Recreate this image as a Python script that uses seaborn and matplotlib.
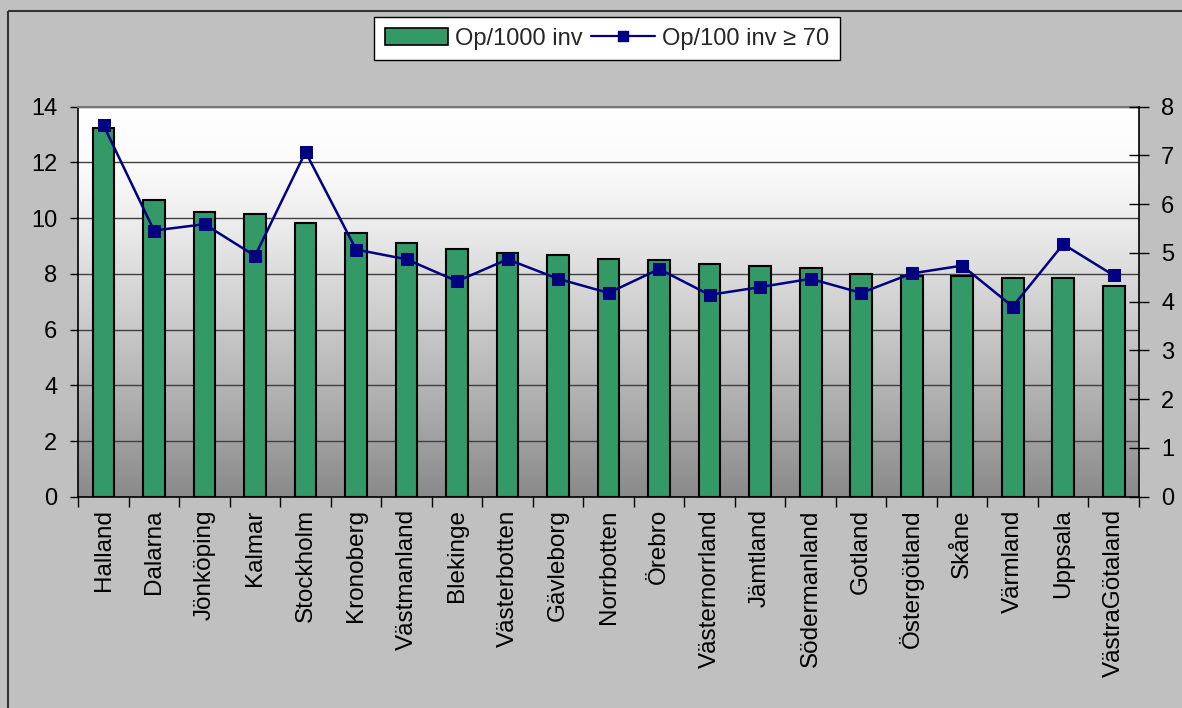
import numpy as np
import pandas as pd
import seaborn as sns
import matplotlib.pyplot as plt
from matplotlib.patches import Rectangle
from matplotlib.lines import Line2D
from matplotlib.colors import LinearSegmentedColormap

# data
regioner = ["Halland", "Dalarna", "Jönköping", "Kalmar", "Stockholm", "Kronoberg",
            "Västmanland", "Blekinge", "Västerbotten", "Gävleborg", "Norrbotten",
            "Örebro", "Västernorrland", "Jämtland", "Södermanland", "Gotland",
            "Östergötland", "Skåne", "Värmland", "Uppsala", "VästraGötaland"]
op_1000 = [13.25, 10.65, 10.23, 10.16, 9.81, 9.47, 9.12, 8.89, 8.76, 8.67, 8.54,
           8.48, 8.34, 8.27, 8.20, 7.99, 7.92, 7.92, 7.85, 7.85, 7.56]
op_100_70 = [7.62, 5.46, 5.59, 4.94, 7.07, 5.07, 4.87, 4.42, 4.87, 4.47, 4.18,
             4.67, 4.14, 4.30, 4.47, 4.18, 4.58, 4.74, 3.90, 5.18, 4.54]

df = pd.DataFrame({"region": regioner, "op1000": op_1000, "op100": op_100_70})

sns.set_theme(style="white")
plt.rcParams["font.family"] = ["Liberation Sans", "DejaVu Sans"]

BAR = "#339966"
LINE = "#000080"
BG = "#c0c0c0"

fig = plt.figure(figsize=(11.82, 7.08), dpi=100, facecolor=BG)
ax = fig.add_axes([0.0662, 0.2984, 0.8974, 0.5509])
ax.set_facecolor("none")

# gradient plot area
grad = LinearSegmentedColormap.from_list(
    "g", [(0, "#ffffff"), (0.15, "#fbfbfb"), (0.3, "#ececec"),
          (0.5, "#d2d2d2"), (0.75, "#b0b0b0"), (1, "#8a8a8a")])
ax.imshow(np.linspace(0, 1, 256).reshape(-1, 1), cmap=grad, aspect="auto",
          extent=[-0.5, 20.5, 0, 14], origin="upper", zorder=0)

sns.barplot(data=df, x="region", y="op1000", ax=ax, color=BAR, width=0.43,
            edgecolor="black", linewidth=1.5, saturation=1, zorder=3)
ax.set_xlim(-0.5, len(regioner) - 0.5)
ax.set_ylim(0, 14)
ax.set_yticks(range(0, 15, 2))
ax.yaxis.grid(True, color="#404040", linewidth=1)
ax.set_axisbelow(True)
for gl in ax.get_ygridlines():
    gl.set_zorder(1)
ax.set_xlabel("")
ax.set_ylabel("")

ax.tick_params(axis="y", left=True, direction="out", length=6, width=1,
               color="black", pad=9, labelsize=17, labelcolor="black")
ax.tick_params(axis="x", which="major", length=0, pad=9, labelsize=17.5,
               labelcolor="black", rotation=90)
ax.set_xticks(np.arange(-0.5, len(regioner), 1), minor=True)
ax.tick_params(axis="x", which="minor", bottom=True, direction="out",
               length=7, width=1, color="black")
for lab in ax.get_xticklabels():
    lab.set_va("top")

for side in ["left", "bottom"]:
    ax.spines[side].set_color("black")
    ax.spines[side].set_linewidth(1.2)
ax.spines["top"].set_color("#777777")
ax.spines["top"].set_linewidth(1.5)
ax.spines["right"].set_visible(False)

ax2 = ax.twinx()
sns.lineplot(x=np.arange(len(regioner)), y=op_100_70, ax=ax2, color=LINE,
             linewidth=1.8, marker="s", markersize=8, markeredgecolor=LINE,
             sort=False, zorder=5)
ax2.set_ylim(0, 8)
ax2.set_yticks(range(0, 9))
ax2.set_ylabel("")
ax2.tick_params(axis="y", right=True, direction="inout", length=14, width=1,
                color="black", pad=9, labelsize=17, labelcolor="black")
ax2.grid(False)
for side in ["left", "top", "bottom"]:
    ax2.spines[side].set_visible(False)
ax2.spines["right"].set_color("black")
ax2.spines["right"].set_linewidth(1.2)

# legend
handles = [Rectangle((0, 0), 1, 1, facecolor=BAR, edgecolor="black", linewidth=1.2),
           Line2D([0], [0], color=LINE, linewidth=1.6, marker="s", markersize=7)]
leg = fig.legend(handles, ["Op/1000 inv", "Op/100 inv ≥ 70"], loc="center",
                 bbox_to_anchor=(0.5135, 0.9456), ncol=2, fontsize=17,
                 frameon=True, fancybox=False, edgecolor="black", framealpha=1,
                 handlelength=2.7, handleheight=0.75, handletextpad=0.3,
                 columnspacing=0.35, borderpad=0.45, borderaxespad=0)
leg.get_frame().set_facecolor("white")
leg.get_frame().set_linewidth(1)

# outer border: only left and top edges fall inside the image
x0, y0 = 8 / 1182, 1 - 11 / 708
fig.add_artist(Line2D([x0, x0], [-0.05, y0], transform=fig.transFigure,
                      color="#333333", linewidth=1.5, solid_capstyle="butt"))
fig.add_artist(Line2D([x0, 1.05], [y0, y0], transform=fig.transFigure,
                      color="#333333", linewidth=1.5, solid_capstyle="butt"))

fig.savefig("out.png", dpi=100, facecolor=BG)
